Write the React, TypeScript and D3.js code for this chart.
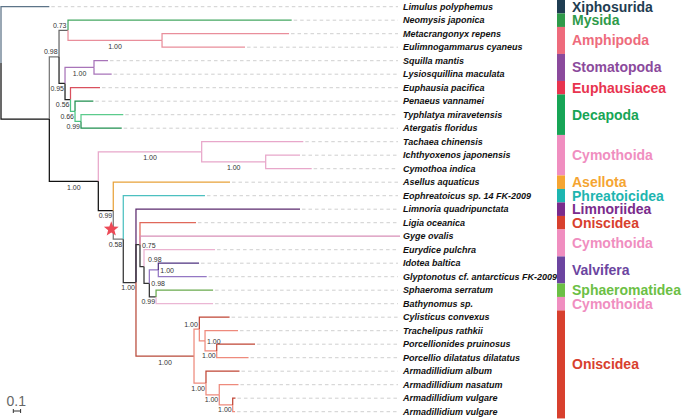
import React from 'react';
import * as d3 from 'd3';

// Tree: [id, parent, branch length (subst./site), posterior support]
const treeRows: [string, string, number, number | null][] = [
  ['root', '', 0, null],
  ['Limulus polyphemus', 'root', 0.662, null],
  ['A', 'root', 0.662, null],
  ['B', 'A', 0.133, 0.98],
  ['N073', 'B', 0.123, 0.73],
  ['Neomysis japonica', 'N073', 3.064, null],
  ['Amph', 'N073', 1.288, 1.0],
  ['Metacrangonyx repens', 'Amph', 1.74, null],
  ['Eulimnogammarus cyaneus', 'Amph', 1.137, null],
  ['C', 'B', 0.082, 0.95],
  ['S', 'C', 0.397, 1.0],
  ['Squilla mantis', 'S', 0.192, null],
  ['Lysiosquillina maculata', 'S', 0.242, null],
  ['E', 'C', 0.075, 0.56],
  ['Euphausia pacifica', 'E', 0.404, null],
  ['Dc', 'E', 0.062, 0.66],
  ['Penaeus vannamei', 'Dc', 0.251, null],
  ['TA', 'Dc', 0.082, 0.99],
  ['Typhlatya miravetensis', 'TA', 0.579, null],
  ['Atergatis floridus', 'TA', 0.558, null],
  ['D', 'A', 0.671, 1.0],
  ['Cym', 'D', 1.416, 1.0],
  ['Tachaea chinensis', 'Cym', 1.392, null],
  ['IC', 'Cym', 0.877, 1.0],
  ['Ichthyoxenos japonensis', 'IC', 0.47, null],
  ['Cymothoa indica', 'IC', 0.63, null],
  ['F', 'D', 0.205, 0.99],
  ['Asellus aquaticus', 'F', 1.599, null],
  ['G', 'F', 0.137, 0.58],
  ['Eophreatoicus sp. 14 FK-2009', 'G', 1.119, null],
  ['H', 'G', 0.174, 1.0],
  ['Limnoria quadripunctata', 'H', 2.247, null],
  ['LG', 'H', 0.055, 0.75],
  ['Ligia oceanica', 'LG', 0.767, null],
  ['Gyge ovalis', 'LG', 3.562, null],
  ['EV', 'LG', 0.055, 0.98],
  ['Eurydice pulchra', 'EV', 0.973, null],
  ['VS', 'EV', 0.073, 0.98],
  ['IG', 'VS', 0.123, 1.0],
  ['Idotea baltica', 'IG', 0.558, null],
  ['Glyptonotus cf. antarcticus FK-2009', 'IG', 0.663, null],
  ['SB', 'VS', 0.092, 0.99],
  ['Sphaeroma serratum', 'SB', 0.781, null],
  ['Bathynomus sp.', 'SB', 0.781, null],
  ['O', 'H', 0.795, 1.0],
  ['O1', 'O', 0.073, 1.0],
  ['Cylisticus convexus', 'O1', 0.414, null],
  ['O1b', 'O1', 0.078, 1.0],
  ['Trachelipus rathkii', 'O1b', 0.452, null],
  ['PP', 'O1b', 0.16, 1.0],
  ['Porcellionides pruinosus', 'PP', 0.525, null],
  ['Porcellio dilatatus dilatatus', 'PP', 0.436, null],
  ['O2', 'O', 0.164, 1.0],
  ['Armadillidium album', 'O2', 0.459, null],
  ['O2b', 'O2', 0.182, 1.0],
  ['Armadillidium nasatum', 'O2b', 0.263, null],
  ['vv', 'O2b', 0.184, 1.0],
  ['Armadillidium vulgare', 'vv', 0.038, null],
  ['Armadillidium vulgare #2', 'vv', 0.032, null],
];

// where each support value sits relative to its node
const supportPlacement: Record<string, string> = {
  B: 'la', N073: 'la', Amph: 'b', C: 'lb', S: 'b', E: 'lb', Dc: 'lb', TA: 'lb',
  D: 'b', Cym: 'b', IC: 'b', F: 'lb', G: 'lb', H: 'lb', LG: 'r', EV: 'ra',
  VS: 'r', IG: 'r', SB: 'lb', O: 'b', O1: 'la', O1b: 'r', PP: 'lb', O2: 'lb',
  O2b: 'lb', vv: 'lb',
};

const branchColors: Record<string, string> = {
  'Limulus polyphemus': '#5d7488', A: '#111', B: '#777', N073: '#666',
  'Neomysis japonica': '#45a862', Amph: '#e98e9b', 'Metacrangonyx repens': '#e98e9b',
  'Eulimnogammarus cyaneus': '#e98e9b', C: '#222', S: '#a874b9', 'Squilla mantis': '#a874b9',
  'Lysiosquillina maculata': '#a874b9', E: '#222', 'Euphausia pacifica': '#d9505e',
  Dc: '#4cc483', 'Penaeus vannamei': '#1f8f4f', TA: '#4cc483', 'Typhlatya miravetensis': '#5bcb8c',
  'Atergatis floridus': '#1f8f4f', D: '#111', Cym: '#e8a7ca', 'Tachaea chinensis': '#e8a7ca',
  IC: '#e8a7ca', 'Ichthyoxenos japonensis': '#e8a7ca', 'Cymothoa indica': '#e8a7ca',
  F: '#111', 'Asellus aquaticus': '#e8a23a', G: '#777', 'Eophreatoicus sp. 14 FK-2009': '#4cc0c0',
  H: '#333', 'Limnoria quadripunctata': '#5b2a6e', LG: '#333', 'Ligia oceanica': '#e0685a',
  'Gyge ovalis': '#d890b8', EV: '#333', 'Eurydice pulchra': '#ebb2d0', VS: '#333',
  IG: '#9477c4', 'Idotea baltica': '#4e3280', 'Glyptonotus cf. antarcticus FK-2009': '#9477c4',
  SB: '#333', 'Sphaeroma serratum': '#6aaa4e', 'Bathynomus sp.': '#ebb6d4',
  O: '#b84a3a', O1: '#ee8a7c', 'Cylisticus convexus': '#c04535', O1b: '#ee8a7c',
  'Trachelipus rathkii': '#ee8a7c', PP: '#ee8a7c', 'Porcellionides pruinosus': '#c04535',
  'Porcellio dilatatus dilatatus': '#ee8a7c', O2: '#ee8a7c', 'Armadillidium album': '#c04535',
  O2b: '#ee8a7c', 'Armadillidium nasatum': '#ee8a7c', vv: '#ee8a7c',
  'Armadillidium vulgare': '#c04535', 'Armadillidium vulgare #2': '#ee8a7c',
};

const groupNames = [
  'Xiphosurida', 'Mysida', 'Amphipoda', 'Stomatopoda', 'Euphausiacea', 'Decapoda',
  'Cymothoida', 'Asellota', 'Phreatoicidea', 'Limnoriidea', 'Oniscidea', 'Cymothoida',
  'Valvifera', 'Sphaeromatidea', 'Cymothoida', 'Oniscidea',
];
const groupSizes = [1, 1, 2, 2, 1, 3, 3, 1, 1, 1, 1, 2, 2, 1, 1, 8];
const groupColors = [
  '#1f3d52', '#2f9a4a', '#ee6b7c', '#8b4a9c', '#e8344f', '#17a556',
  '#f08ec0', '#f5a532', '#1db5b0', '#7a2b8c', '#d8402e', '#f08ec0',
  '#6c45a0', '#6cbf45', '#f08ec0', '#d8402e',
];

const scaleBarValue = 0.1;

type Row = { id: string; parent: string; len: number; support: number | null };

export default function App() {
  const W = 683;
  const Hh = 419;
  const rows: Row[] = treeRows.map(([id, parent, len, support]) => ({ id, parent, len, support }));
  const root = d3
    .stratify<Row>()
    .id((d) => d.id)
    .parentId((d) => (d.parent === '' ? null : d.parent))(rows);

  const x = d3.scaleLinear().domain([0, 1]).range([1, 74]);
  const leaves = root.leaves();
  const y = d3
    .scalePoint<string>()
    .domain(leaves.map((l) => l.id as string))
    .range([6.7, 411.7]);
  const step = y.step();

  const dist = new Map<string, number>();
  root.eachBefore((n) => {
    dist.set(n.id as string, n.parent ? dist.get(n.parent.id as string)! + n.data.len : 0);
  });
  const ypos = new Map<string, number>();
  root.eachAfter((n) => {
    if (n.children) {
      const c = n.children;
      ypos.set(n.id as string, (ypos.get(c[0].id as string)! + ypos.get(c[c.length - 1].id as string)!) / 2);
    } else ypos.set(n.id as string, y(n.id as string)!);
  });
  const nx = (n: d3.HierarchyNode<Row>) => x(dist.get(n.id as string)!);
  const ny = (n: d3.HierarchyNode<Row>) => ypos.get(n.id as string)!;

  const nodes = root.descendants().filter((n) => n.parent);
  const labelX = 403;
  const dashEnd = 398;

  // groups
  let acc = 0;
  const groups = groupNames.map((name, i) => {
    const start = acc;
    acc += groupSizes[i];
    const top = y(leaves[start].id as string)! - step / 2;
    const bottom = y(leaves[acc - 1].id as string)! + step / 2;
    return { name, color: groupColors[i], top: Math.max(0, top), bottom, mid: (top + bottom) / 2 };
  });

  const G = root.descendants().find((n) => n.id === 'G')!;
  const starCx = nx(G) - 12;
  const starCy = ny(G) - 10;
  const starPts: string[] = [];
  for (let k = 0; k < 10; k++) {
    const r = k % 2 === 0 ? 7.8 : 3.3;
    const a = -Math.PI / 2 + (k * Math.PI) / 5;
    starPts.push(`${starCx + r * Math.cos(a)},${starCy + r * Math.sin(a)}`);
  }

  const sbX0 = 13.3;
  const sbX1 = sbX0 + x(scaleBarValue) - x(0);

  return (
    <svg
      width={W}
      height={Hh}
      style={{ position: 'absolute', left: 0, top: 0, background: '#fff' }}
      fontFamily="Arial, 'Liberation Sans', Helvetica, sans-serif"
    >
      {/* dashed leaders */}
      {leaves.map((l) => {
        const x0 = nx(l) + 2;
        return x0 < dashEnd ? (
          <line key={'d' + l.id} x1={x0} x2={dashEnd} y1={ny(l)} y2={ny(l)} stroke="#c9c9c9" strokeWidth={0.9} strokeDasharray="3.5,3" />
        ) : null;
      })}
      {/* branches */}
      {nodes.map((n) => (
        <path
          key={'b' + n.id}
          d={`M${nx(n.parent!)},${ny(n.parent!)}V${ny(n)}H${nx(n)}`}
          fill="none"
          stroke={branchColors[n.id as string] || '#222'}
          strokeWidth={1.25}
        />
      ))}
      {/* support values */}
      {nodes
        .filter((n) => n.data.support != null)
        .map((n) => {
          const p = supportPlacement[n.id as string] || 'lb';
          const xn = nx(n);
          const yn = ny(n);
          let tx = xn - 1;
          let ty = yn + 7.5;
          let anchor: 'start' | 'middle' | 'end' = 'end';
          if (p === 'b') {
            tx = (nx(n.parent!) + xn) / 2;
            ty = yn + 8.5;
            anchor = 'middle';
          } else if (p === 'la') {
            tx = xn - 1.5;
            ty = yn - 2.5;
          } else if (p === 'r') {
            tx = xn + 2;
            ty = yn + 3;
            anchor = 'start';
          } else if (p === 'ra') {
            tx = xn + 4;
            ty = yn - 4.5;
            anchor = 'start';
          }
          return (
            <text key={'s' + n.id} x={tx} y={ty} fontSize={7} fill="#333" textAnchor={anchor}>
              {n.data.support!.toFixed(2)}
            </text>
          );
        })}
      {/* star */}
      <polygon points={starPts.join(' ')} fill="#ec4a57" />
      {/* tip labels */}
      {leaves.map((l) => (
        <text
          key={'t' + l.id}
          x={labelX}
          y={ny(l) + 3.2}
          fontSize={9}
          fontWeight="bold"
          fontStyle="italic"
          fill="#111"
        >
          {(l.id as string).replace(/ #\d+$/, '')}
        </text>
      ))}
      {/* group bars */}
      {groups.map((g, i) => (
        <g key={'g' + i}>
          <rect x={557} y={g.top} width={8} height={g.bottom - g.top} fill={g.color} />
          <text x={572} y={g.mid + 5} fontSize={14} fontWeight="bold" fill={g.color}>
            {g.name}
          </text>
        </g>
      ))}
      {/* scale bar */}
      <text x={6.5} y={405.7} fontSize={14} fill="#666">
        {String(scaleBarValue)}
      </text>
      <line x1={sbX0} x2={sbX1} y1={411} y2={411} stroke="#333" strokeWidth={1} />
      <line x1={sbX0} x2={sbX0} y1={409} y2={413} stroke="#333" strokeWidth={1} />
      <line x1={sbX1} x2={sbX1} y1={409} y2={413} stroke="#333" strokeWidth={1} />
    </svg>
  );
}
